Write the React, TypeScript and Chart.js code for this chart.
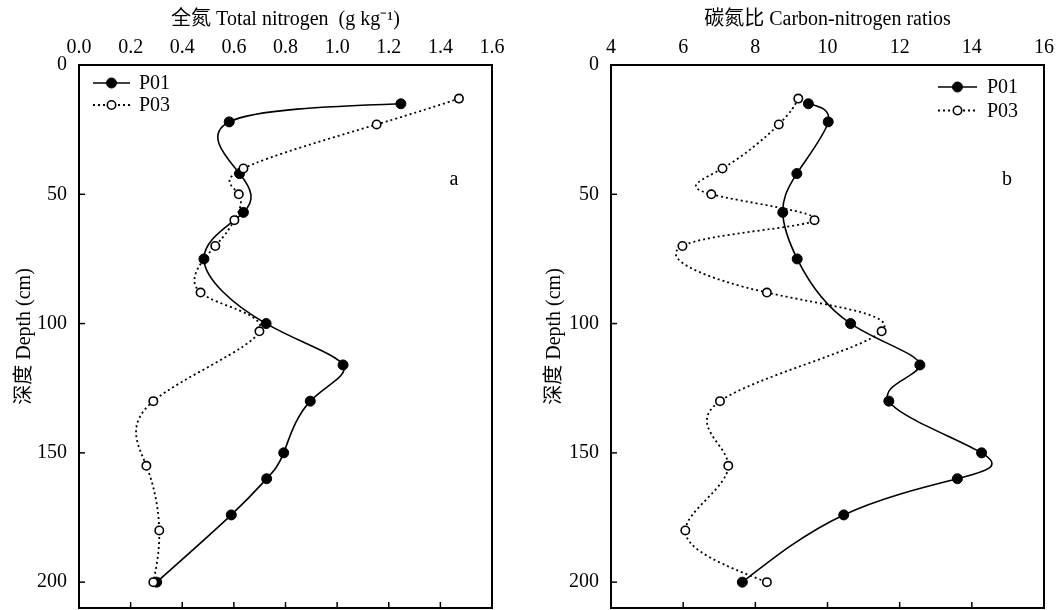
import React, { useEffect, useRef } from 'react';
import { Chart, registerables } from 'chart.js';

Chart.register(...registerables);

// ---- data ----
const seriesNames = ['P01', 'P03'];
const depthP01 = [15, 22, 42, 57, 75, 100, 116, 130, 150, 160, 174, 200];
const depthP03 = [13, 23, 40, 50, 60, 70, 88, 103, 130, 155, 180, 200];
const tnP01 = [1.247, 0.582, 0.622, 0.637, 0.484, 0.725, 1.023, 0.896, 0.793, 0.727, 0.59, 0.301];
const tnP03 = [1.472, 1.153, 0.637, 0.619, 0.602, 0.528, 0.471, 0.699, 0.288, 0.261, 0.311, 0.288];
const cnP01 = [9.47, 10.02, 9.15, 8.76, 9.16, 10.64, 12.56, 11.7, 14.27, 13.6, 10.45, 7.64];
const cnP03 = [9.19, 8.65, 7.09, 6.78, 9.64, 5.98, 8.32, 11.5, 7.02, 7.25, 6.06, 8.32];
const tnTicks = { min: 0, max: 1.6, step: 0.2, decimals: 1 };
const cnTicks = { min: 4, max: 16, step: 2, decimals: 0 };
const depthAxis = { min: 0, max: 210, step: 50 };
const tnTitle = '全氮 Total nitrogen  (g kg⁻¹)';
const cnTitle = '碳氮比 Carbon-nitrogen ratios';
const depthTitle = '深度 Depth (cm)';

const SERIF = "'Liberation Serif', 'Times New Roman', 'Noto Sans CJK SC', serif";

const styleP01 = { color: '#000', width: 1.6, dash: [] as number[], radius: 5, fill: '#000', pBorder: 1 };
const styleP03 = { color: '#000', width: 1.8, dash: [2, 3], radius: 4.2, fill: '#fff', pBorder: 1.6 };

// natural cubic spline second derivatives
function natural2nd(t: number[], p: number[]): number[] {
  const n = p.length;
  const M = new Array(n).fill(0);
  if (n < 3) return M;
  const a: number[] = [], b: number[] = [], c: number[] = [], d: number[] = [];
  for (let i = 1; i < n - 1; i++) {
    const h0 = t[i] - t[i - 1];
    const h1 = t[i + 1] - t[i];
    a.push(h0);
    b.push(2 * (h0 + h1));
    c.push(h1);
    d.push(6 * ((p[i + 1] - p[i]) / h1 - (p[i] - p[i - 1]) / h0));
  }
  const m = b.length;
  for (let i = 1; i < m; i++) {
    const w = a[i] / b[i - 1];
    b[i] -= w * c[i - 1];
    d[i] -= w * d[i - 1];
  }
  const x = new Array(m).fill(0);
  x[m - 1] = d[m - 1] / b[m - 1];
  for (let i = m - 2; i >= 0; i--) x[i] = (d[i] - c[i] * x[i + 1]) / b[i];
  for (let i = 0; i < m; i++) M[i + 1] = x[i];
  return M;
}

// parametric natural cubic spline through the library's point pixels, drawn by Chart.js as Béziers
const splinePlugin = {
  id: 'naturalSpline',
  beforeDatasetDraw(chart: any, args: any, o: any) {
    const meta = args.meta;
    const line = meta.dataset;
    const pts = meta.data;
    if (!line || !pts || pts.length < 3) return;
    line.updateControlPoints(chart.chartArea, meta.indexAxis);
    const n = pts.length;
    const xs = pts.map((q: any) => q.x);
    const ys = pts.map((q: any) => q.y);
    const t = [0];
    for (let i = 1; i < n; i++) {
      const dd = Math.hypot(xs[i] - xs[i - 1], ys[i] - ys[i - 1]);
      t.push(t[i - 1] + Math.max(Math.pow(dd, o.alpha), 1e-6));
    }
    const Mx = natural2nd(t, xs);
    const My = natural2nd(t, ys);
    for (let i = 0; i < n - 1; i++) {
      const h = t[i + 1] - t[i];
      const dxL = (xs[i + 1] - xs[i]) / h - (h * (2 * Mx[i] + Mx[i + 1])) / 6;
      const dyL = (ys[i + 1] - ys[i]) / h - (h * (2 * My[i] + My[i + 1])) / 6;
      const dxR = (xs[i + 1] - xs[i]) / h + (h * (Mx[i] + 2 * Mx[i + 1])) / 6;
      const dyR = (ys[i + 1] - ys[i]) / h + (h * (My[i] + 2 * My[i + 1])) / 6;
      pts[i].cp2x = xs[i] + (dxL * h) / 3;
      pts[i].cp2y = ys[i] + (dyL * h) / 3;
      pts[i + 1].cp1x = xs[i + 1] - (dxR * h) / 3;
      pts[i + 1].cp1y = ys[i + 1] - (dyR * h) / 3;
    }
    pts[0].cp1x = xs[0];
    pts[0].cp1y = ys[0];
    pts[n - 1].cp2x = xs[n - 1];
    pts[n - 1].cp2y = ys[n - 1];
    line._path = undefined;
  },
};

const inTicksPlugin = {
  id: 'inTicks',
  afterDraw(chart: any, _a: any, o: any) {
    const { ctx, chartArea, scales } = chart;
    const { left, right, top, bottom } = chartArea;
    ctx.save();
    ctx.strokeStyle = '#000';
    ctx.lineWidth = 1.5;
    scales.y.ticks.forEach((t: any) => {
      const py = scales.y.getPixelForValue(t.value);
      if (py <= top + 1 || py >= bottom - 1) return;
      ctx.beginPath();
      ctx.moveTo(left, py);
      ctx.lineTo(left + o.len, py);
      ctx.stroke();
    });
    scales.x.ticks.forEach((t: any) => {
      const px = scales.x.getPixelForValue(t.value);
      if (px <= left + 1 || px >= right - 1) return;
      ctx.beginPath();
      ctx.moveTo(px, bottom);
      ctx.lineTo(px, bottom - o.len);
      ctx.stroke();
    });
    ctx.restore();
  },
};

const legendPlugin = {
  id: 'innerLegend',
  afterDraw(chart: any, _a: any, o: any) {
    const { ctx } = chart;
    ctx.save();
    chart.data.datasets.forEach((ds: any, i: number) => {
      const y = o.y + i * o.gap;
      ctx.strokeStyle = ds.borderColor;
      ctx.lineWidth = ds.borderWidth;
      ctx.setLineDash(ds.borderDash || []);
      ctx.beginPath();
      ctx.moveTo(o.x, y);
      ctx.lineTo(o.x + o.len, y);
      ctx.stroke();
      ctx.setLineDash([]);
      ctx.beginPath();
      ctx.arc(o.x + o.len / 2, y, ds.pointRadius, 0, Math.PI * 2);
      ctx.fillStyle = ds.pointBackgroundColor;
      ctx.fill();
      ctx.lineWidth = ds.pointBorderWidth;
      ctx.strokeStyle = ds.pointBorderColor;
      ctx.stroke();
      ctx.fillStyle = '#000';
      ctx.font = `20px ${SERIF}`;
      ctx.textAlign = 'left';
      ctx.textBaseline = 'middle';
      ctx.fillText(ds.label, o.x + o.len + o.textGap, y + 1);
    });
    ctx.restore();
  },
};

const letterPlugin = {
  id: 'panelLetter',
  afterDraw(chart: any, _a: any, o: any) {
    const { ctx } = chart;
    ctx.save();
    ctx.fillStyle = '#000';
    ctx.font = `20px ${SERIF}`;
    ctx.textAlign = 'center';
    ctx.textBaseline = 'alphabetic';
    ctx.fillText(o.text, o.x, o.y);
    ctx.restore();
  },
};

function makeDataset(label: string, xs: number[], ys: number[], st: any) {
  return {
    label,
    data: xs.map((v, i) => ({ x: v, y: ys[i] })),
    showLine: true,
    borderColor: st.color,
    borderWidth: st.width,
    borderDash: st.dash,
    tension: 0.5,
    pointRadius: st.radius,
    pointBackgroundColor: st.fill,
    pointBorderColor: '#000',
    pointBorderWidth: st.pBorder,
    fill: false,
    xAxisID: 'x',
    yAxisID: 'y',
  };
}

function makeConfig(p: any): any {
  const tickFont = { family: SERIF, size: 20 };
  const titleFont = { family: SERIF, size: 20 };
  const border = { display: true, color: '#000', width: 2 };
  const grid = { drawOnChartArea: false, drawTicks: false };
  const noPad = (s: any) => {
    s.paddingTop = 0;
    s.paddingBottom = 0;
    s.paddingLeft = 0;
    s.paddingRight = 0;
  };
  return {
    type: 'scatter',
    data: {
      datasets: [
        { ...makeDataset(seriesNames[0], p.v1, depthP01, styleP01), order: 1 },
        { ...makeDataset(seriesNames[1], p.v3, depthP03, styleP03), order: 0 },
      ],
    },
    options: {
      responsive: false,
      animation: false,
      events: [],
      layout: { padding: 0, autoPadding: false },
      plugins: {
        legend: { display: false },
        tooltip: { enabled: false },
        inTicks: { len: 6 },
        naturalSpline: { alpha: 0 },
        innerLegend: p.legend,
        panelLetter: p.letter,
      },
      scales: {
        x: {
          type: 'linear',
          position: 'top',
          min: p.ax.min,
          max: p.ax.max,
          ticks: {
            stepSize: p.ax.step,
            callback: (v: any) => Number(v).toFixed(p.ax.decimals),
            font: tickFont,
            color: '#000',
            padding: 5,
            maxRotation: 0,
            autoSkip: false,
          },
          grid,
          border,
          title: { display: true, text: p.title, font: titleFont, color: '#000', padding: { top: 8, bottom: 0 } },
          afterFit: (s: any) => { s.height = 65; noPad(s); },
        },
        xb: {
          type: 'linear',
          position: 'bottom',
          min: p.ax.min,
          max: p.ax.max,
          ticks: { display: false },
          grid,
          border,
          afterFit: (s: any) => { s.height = 2; noPad(s); },
        },
        y: {
          type: 'linear',
          position: 'left',
          reverse: true,
          min: depthAxis.min,
          max: depthAxis.max,
          ticks: { stepSize: depthAxis.step, includeBounds: false, font: tickFont, color: '#000', padding: 12 },
          grid,
          border,
          title: { display: true, text: depthTitle, font: titleFont, color: '#000', padding: { top: 13, bottom: 0 } },
          afterFit: (s: any) => { s.width = p.yw; noPad(s); },
        },
        yr: {
          type: 'linear',
          position: 'right',
          reverse: true,
          min: depthAxis.min,
          max: depthAxis.max,
          ticks: { display: false },
          grid,
          border,
          afterFit: (s: any) => { s.width = p.rw; noPad(s); },
        },
      },
    },
    plugins: [splinePlugin, inTicksPlugin, legendPlugin, letterPlugin],
  };
}

function Panel({ cfg, left, width }: { cfg: any; left: number; width: number }) {
  const ref = useRef<HTMLCanvasElement | null>(null);
  useEffect(() => {
    if (!ref.current) return;
    const chart = new Chart(ref.current, makeConfig(cfg));
    return () => chart.destroy();
  }, []);
  return (
    <canvas
      ref={ref}
      width={width}
      height={610}
      style={{ position: 'absolute', left, top: 0, width, height: 610, display: 'block' }}
    />
  );
}

export default function App() {
  useEffect(() => {
    document.body.style.margin = '0';
  }, []);
  const leftCfg = {
    v1: tnP01,
    v3: tnP03,
    ax: tnTicks,
    title: tnTitle,
    yw: 79,
    rw: 38,
    legend: { x: 93, y: 83, gap: 22, len: 37, textGap: 9 },
    letter: { text: 'a', x: 454, y: 185 },
  };
  const rightCfg = {
    v1: cnP01,
    v3: cnP03,
    ax: cnTicks,
    title: cnTitle,
    yw: 81,
    rw: 13,
    legend: { x: 408, y: 87, gap: 23.5, len: 39, textGap: 10 },
    letter: { text: 'b', x: 477, y: 185 },
  };
  return (
    <div style={{ position: 'absolute', left: 0, top: 0, width: 1057, height: 610, background: '#fff' }}>
      <Panel cfg={leftCfg} left={0} width={530} />
      <Panel cfg={rightCfg} left={530} width={527} />
    </div>
  );
}
